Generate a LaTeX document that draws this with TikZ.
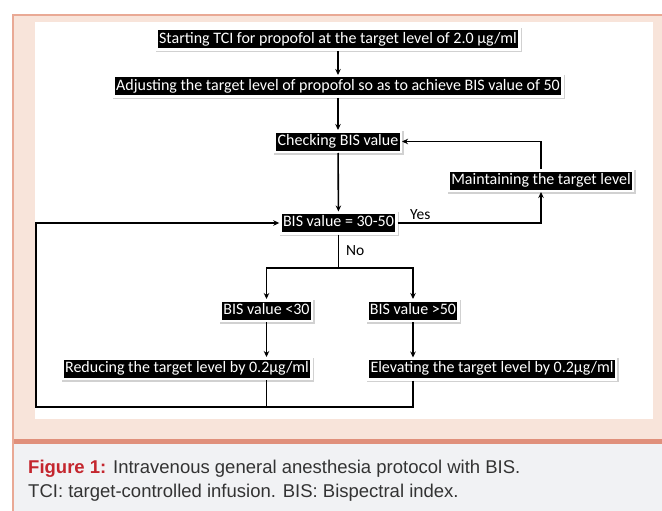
\documentclass[tikz,border=0pt]{standalone}
\usepackage{fontspec}
\setmainfont{Liberation Sans}
\newfontfamily\boxfont{Carlito}
\usepackage{xcolor}
\usetikzlibrary{arrows.meta,calc}

\definecolor{framepink}{HTML}{F8E4DA}
\definecolor{frameline}{HTML}{E9A995}
\definecolor{barsalmon}{HTML}{E0907B}
\definecolor{capgray}{HTML}{F1F2F4}
\definecolor{figred}{HTML}{C4262E}
\definecolor{captext}{HTML}{333333}

\begin{document}
\begin{tikzpicture}[x=1pt,y=-1pt]
            \tikzset{blackbox/.style = {fill=black, text=white, draw=white, line width=2.5pt,
                preaction={draw=black!18, line width=3.5pt, transform canvas={shift={(1pt,-1pt)}}},
                font=\boxfont\fontsize{16}{18}\selectfont, inner xsep=2.5pt, inner ysep=3pt,
                text height=11pt, text depth=3.5pt}}
            \tikzset{lbl/.style = {font=\boxfont\fontsize{15.5}{18}\selectfont, inner sep=0pt}}
            \tikzset{link/.style = {line width=1.6pt, -{Stealth[length=6pt,width=5.5pt]}}}
            \tikzset{plain/.style = {line width=1.6pt}}

            % frame
            \useasboundingbox (0,0) rectangle (662,511);
            \fill[framepink] (13,15) rectangle (662,441);
            \fill[white] (35,22) rectangle (653,419);
            \fill[barsalmon] (13,439) rectangle (662,444);
            \fill[capgray] (13,444) rectangle (662,511);
            \draw[frameline, line width=1.5pt] (13,511) -- (13,15) -- (662,15);

            % boxes
            \node[blackbox] (start) at (338,39.5) {Starting TCI for propofol at the target level of 2.0 µg/ml};
            \node[blackbox] (adjust) at (338,86.5) {Adjusting the target level of propofol so as to achieve BIS value of 50};
            \node[blackbox] (check) at (338,141.5) {Checking BIS value};
            \node[blackbox] (maintain) at (541,180.5) {Maintaining the target level};
            \node[blackbox] (bis) at (338.5,223) {BIS value = 30-50};
            \node[blackbox] (lt30) at (266.5,310.5) {BIS value <30};
            \node[blackbox] (gt50) at (413,310.5) {BIS value >50};
            \node[blackbox] (reduce) at (187,368.5) {Reducing the target level by 0.2µg/ml};
            \node[blackbox] (elevate) at (492,369) {Elevating the target level by 0.2µg/ml};
            \coordinate (split) at (338.5,268);
            \coordinate (back) at (36,407);

            % labels
            \node[lbl, anchor=base west] (yes) at (410,219) {Yes};
            \node[lbl, anchor=base west] (no) at (346,255) {No};

            % edges
            \draw[link] (start) to (adjust);
            \draw[link] (adjust) to (check);
            \draw[link] (check) to (bis);
            \draw[link] (bis.east) -| (maintain.south);
            \draw[link] (maintain.north) |- (check.east);
            \draw[plain] (bis.south) to (split);
            \foreach \y in {lt30,gt50} {\draw[link] (split) -| (\y.north);}
            \draw[link] (lt30.south) to (lt30.south |- reduce.north);
            \draw[link] (gt50.south) to (gt50.south |- elevate.north);
            \draw[plain] (lt30.south |- reduce.south) to (lt30.south |- back);
            \draw[link] (gt50.south |- elevate.south) |- (back) |- (bis.west);

            % caption
            \node[anchor=base west, inner sep=0pt, font=\fontsize{18.5}{22}\selectfont, text=captext] (cap1) at (28,473.5)
              {\textcolor{figred}{\textbf{Figure 1:}} Intravenous general anesthesia protocol with BIS.};
            \node[anchor=base west, inner sep=0pt, font=\fontsize{18.5}{22}\selectfont, text=captext] (cap2) at (28,497.5)
              {TCI: target-controlled infusion. BIS: Bispectral index.};
\end{tikzpicture}
\end{document}
